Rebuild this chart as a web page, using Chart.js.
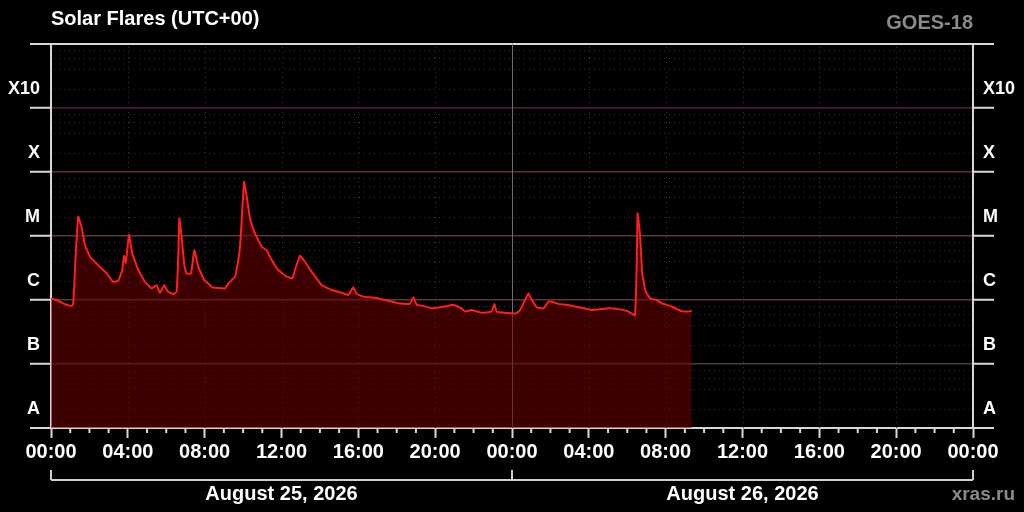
<!DOCTYPE html>
<html>
<head>
<meta charset="utf-8">
<script src="https://cdn.jsdelivr.net/npm/chart.js@4/dist/chart.umd.min.js"></script>
<style>
  html, body { margin: 0; padding: 0; background: #000; }
  #wrap { width: 1024px; height: 512px; }
</style>
</head>
<body>
<div id="wrap"><canvas id="chart" width="1024" height="512"></canvas></div>
<script>
// X-ray flux, hours since 00:00 Aug 25 (UTC) -> W/m^2
const hours = [0, 0.38, 0.73, 1.08, 1.16, 1.29, 1.42, 1.60, 1.77, 2.03,
    2.46, 2.90, 3.24, 3.50, 3.71, 3.80, 3.89, 4.06, 4.23, 4.55,
    4.89, 5.24, 5.50, 5.67, 5.90, 6.08, 6.37, 6.54, 6.63, 6.68,
    6.80, 6.94, 7.06, 7.29, 7.46, 7.67, 7.98, 8.28, 8.37, 9.06,
    9.23, 9.58, 9.75, 9.84, 9.93, 10.05, 10.19, 10.36, 10.62, 10.97,
    11.23, 11.49, 11.83, 12.27, 12.56, 12.70, 12.96, 13.22, 13.57, 14.09,
    14.61, 15.13, 15.48, 15.74, 15.92, 16.26, 16.61, 17.22, 18.08, 18.69,
    18.86, 19.04, 19.38, 19.82, 20.51, 20.94, 21.38, 21.55, 21.90, 22.42,
    22.94, 23.08, 23.20, 23.63, 24.24, 24.42, 24.68, 24.85, 25.03, 25.29,
    25.63, 25.89, 26.07, 26.41, 26.85, 27.28, 28.15, 29.01, 29.54, 30.06,
    30.40, 30.49, 30.54, 30.66, 30.78, 30.96, 31.19, 31.53, 31.79, 32.31,
    32.83, 33.18, 33.36];
const flux = [1.06e-6, 9.7e-7, 8.6e-7, 8.1e-7, 8.9e-7, 5.4e-6, 2.0e-5, 1.33e-5, 7.2e-6, 4.75e-6,
    3.5e-6, 2.6e-6, 1.93e-6, 2.0e-6, 2.94e-6, 4.9e-6, 3.8e-6, 1.04e-5, 5.4e-6, 2.94e-6,
    1.93e-6, 1.52e-6, 1.71e-6, 1.30e-6, 1.71e-6, 1.35e-6, 1.24e-6, 1.35e-6, 5.4e-6, 1.89e-5,
    9.75e-6, 3.5e-6, 2.6e-6, 2.6e-6, 6.0e-6, 3.3e-6, 2.05e-6, 1.71e-6, 1.58e-6, 1.52e-6,
    1.82e-6, 2.31e-6, 4.2e-6, 6.8e-6, 1.78e-5, 7.05e-5, 4.1e-5, 1.89e-5, 1.10e-5, 6.8e-6,
    6.0e-6, 4.2e-6, 2.94e-6, 2.31e-6, 2.18e-6, 2.94e-6, 4.9e-6, 3.96e-6, 2.77e-6, 1.71e-6,
    1.43e-6, 1.30e-6, 1.20e-6, 1.58e-6, 1.24e-6, 1.13e-6, 1.10e-6, 1.03e-6, 8.9e-7, 8.7e-7,
    1.10e-6, 8.4e-7, 8.1e-7, 7.4e-7, 7.9e-7, 8.4e-7, 7.4e-7, 6.6e-7, 7.0e-7, 6.3e-7,
    6.6e-7, 8.7e-7, 6.6e-7, 6.3e-7, 6.2e-7, 7.0e-7, 1.0e-6, 1.27e-6, 1.0e-6, 7.7e-7,
    7.4e-7, 9.4e-7, 9.4e-7, 8.7e-7, 8.4e-7, 7.9e-7, 7.0e-7, 7.4e-7, 7.2e-7, 6.6e-7,
    5.8e-7, 3.3e-6, 2.26e-5, 1.10e-5, 2.6e-6, 1.35e-6, 1.06e-6, 1.0e-6, 8.9e-7, 7.9e-7,
    6.7e-7, 6.6e-7, 6.8e-7];

// flare classes, label sits at 2x the lower bound of each band
const classLabels = ['A', 'B', 'C', 'M', 'X', 'X10'];
const classExp = [-8, -7, -6, -5, -4, -3];
const minorSteps = [2, 4, 6, 8];
const dayLabels = ['August 25, 2026', 'August 26, 2026'];
const dayStart = [0, 24];

const FONT = "'Liberation Sans', Arial, sans-serif";
const bandColors = { '-2': '#d8d8d8', '-3': '#4a1f46', '-4': '#6a2a2a', '-5': '#5c3934', '-6': '#5c3934', '-7': '#4c3a3a', '-8': '#d8d8d8' };

function decadeOf(v) {
    const l = Math.log10(v);
    const e = Math.round(l);
    return Math.abs(l - e) < 1e-6 ? e : null;
}

function classLabel(v) {
    const l = Math.log10(v);
    const e = Math.floor(l + 1e-9);
    if (Math.abs(l - e - Math.log10(2)) > 1e-4) return '';
    const i = classExp.indexOf(e);
    return i >= 0 ? classLabels[i] : '';
}

function isMinorLine(v) {
    const l = Math.log10(v);
    const e = Math.floor(l + 1e-9);
    const m = Math.round(Math.pow(10, l - e) * 1000) / 1000;
    return minorSteps.includes(m);
}

function yAxis(position, padding) {
    return {
        type: 'logarithmic',
        position: position,
        min: 1e-8,
        max: 1e-2,
        afterFit: s => { s.width = 51; },
        border: { color: '#d8d8d8', width: 2 },
        grid: {
            drawOnChartArea: position === 'left',
            tickLength: 21,
            color: c => { const e = decadeOf(c.tick.value); return e === null ? 'transparent' : bandColors[e]; },
            lineWidth: c => { const e = decadeOf(c.tick.value); return (e === -2 || e === -8) ? 2 : 1.5; },
            tickColor: c => decadeOf(c.tick.value) === null ? 'transparent' : '#d8d8d8',
            tickWidth: 2
        },
        ticks: {
            autoSkip: false,
            padding: padding,
            color: '#ffffff',
            font: { family: FONT, size: 18, weight: 'bold' },
            callback: v => classLabel(v)
        }
    };
}

// dotted minor grid, midnight line, hourly minor ticks
const gridPlugin = {
    id: 'gridPlugin',
    beforeDatasetsDraw(chart) {
        const { ctx, chartArea: a, scales: { x, y } } = chart;
        ctx.save();
        ctx.lineWidth = 1;
        ctx.strokeStyle = '#363636';
        ctx.setLineDash([1, 4]);
        y.ticks.forEach(t => {
            if (!isMinorLine(t.value)) return;
            const py = Math.round(y.getPixelForValue(t.value)) + 0.5;
            ctx.beginPath(); ctx.moveTo(a.left + 3, py); ctx.lineTo(a.right, py); ctx.stroke();
        });
        for (let h = 4; h < 48; h += 4) {
            if (h === 24) continue;
            const px = Math.round(x.getPixelForValue(h)) + 0.5;
            ctx.beginPath(); ctx.moveTo(px, a.top + 3); ctx.lineTo(px, a.bottom); ctx.stroke();
        }
        ctx.setLineDash([]);
        ctx.strokeStyle = '#6e6e6e';
        const mx = Math.round(x.getPixelForValue(24)) + 0.5;
        ctx.beginPath(); ctx.moveTo(mx, a.top); ctx.lineTo(mx, a.bottom); ctx.stroke();
        ctx.restore();
    },
    afterDraw(chart) {
        const { ctx, chartArea: a, scales: { x } } = chart;
        ctx.save();
        // minor hourly ticks
        ctx.strokeStyle = '#d8d8d8';
        ctx.lineWidth = 2;
        for (let h = 1; h < 48; h++) {
            if (h % 4 === 0) continue;
            const px = x.getPixelForValue(h);
            ctx.beginPath(); ctx.moveTo(px, a.bottom); ctx.lineTo(px, a.bottom + 5); ctx.stroke();
        }
        // day bracket
        const by = 480;
        ctx.strokeStyle = '#cfcfcf';
        ctx.beginPath(); ctx.moveTo(a.left, by); ctx.lineTo(a.right, by); ctx.stroke();
        [0, 24, 48].forEach(h => {
            const px = x.getPixelForValue(h);
            ctx.beginPath(); ctx.moveTo(px, by); ctx.lineTo(px, by - 10); ctx.stroke();
        });
        ctx.fillStyle = '#ffffff';
        ctx.font = 'bold 20px ' + FONT;
        ctx.textAlign = 'center';
        ctx.textBaseline = 'alphabetic';
        dayLabels.forEach((d, i) => {
            const cx = (x.getPixelForValue(dayStart[i]) + x.getPixelForValue(dayStart[i] + 24)) / 2;
            ctx.fillText(d, cx, 500);
        });
        // titles
        ctx.textAlign = 'left';
        ctx.fillText('Solar Flares (UTC+00)', a.left, 25);
        ctx.fillStyle = '#8a8a8a';
        ctx.textAlign = 'right';
        ctx.fillText('GOES-18', a.right, 29);
        ctx.font = 'bold 19px ' + FONT;
        ctx.fillText('xras.ru', 1015, 500);
        ctx.restore();
    }
};

const ctx = document.getElementById('chart').getContext('2d');
new Chart(ctx, {
    type: 'line',
    data: {
        datasets: [{
            data: hours.map((h, i) => ({ x: h, y: flux[i] })),
            borderColor: '#ff1e1e',
            borderWidth: 2,
            backgroundColor: 'rgba(110, 0, 0, 0.55)',
            fill: 'start',
            pointRadius: 0,
            tension: 0.1
        }]
    },
    options: {
        responsive: false,
        animation: false,
        layout: { padding: { top: 44, left: 0, right: 0, bottom: 0 } },
        plugins: { legend: { display: false }, tooltip: { enabled: false } },
        scales: {
            x: {
                type: 'linear',
                min: 0,
                max: 48,
                afterFit: s => { s.height = 84; },
                border: { color: '#d8d8d8', width: 2 },
                grid: { drawOnChartArea: false, tickLength: 10, tickColor: '#d8d8d8', tickWidth: 2 },
                ticks: {
                    stepSize: 4,
                    autoSkip: false,
                    maxRotation: 0,
                    padding: 2,
                    color: '#ffffff',
                    font: { family: FONT, size: 20, weight: 'bold' },
                    callback: v => String(v % 24).padStart(2, '0') + ':00'
                }
            },
            y: yAxis('left', -10),
            y2: yAxis('right', -11)
        }
    },
    plugins: [gridPlugin]
});
</script>
</body>
</html>
